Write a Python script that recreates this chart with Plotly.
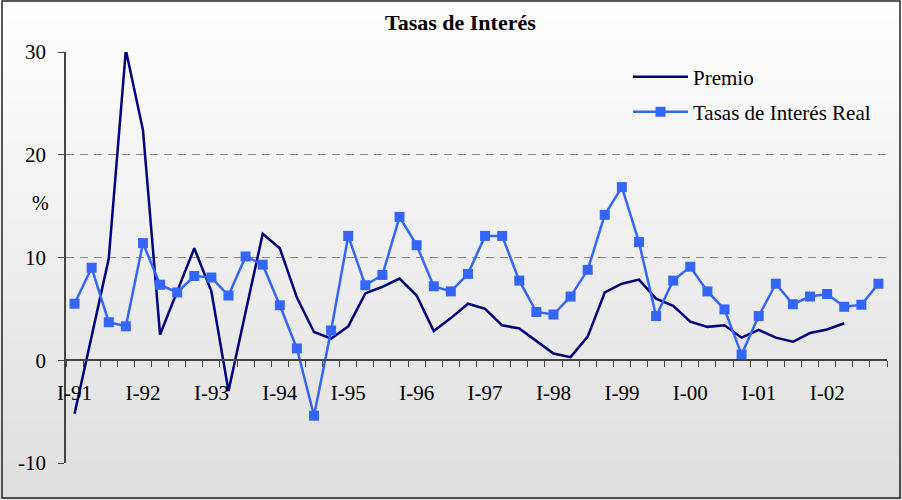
import plotly.graph_objects as go

# ---- data ----
years = ["91", "92", "93", "94", "95", "96", "97", "98", "99", "00", "01", "02"]
quarters = ["I", "II", "III", "IV"]
categories = [f"{q}-{y}" for y in years for q in quarters]

premio = [
    -5.2, 2.3, 9.9, 30.2,
    22.4, 2.5, 6.8, 10.9,
    6.7, -3.0, 4.7, 12.3,
    10.9, 6.1, 2.75, 2.1,
    3.3, 6.5, 7.15, 7.95,
    6.3, 2.85, 4.1, 5.5,
    5.0, 3.4, 3.1, 1.9,
    0.65, 0.3, 2.3, 6.6,
    7.45, 7.85, 6.0, 5.3,
    3.75, 3.25, 3.4, 2.2,
    2.95, 2.2, 1.8, 2.65,
    3.0, 3.6,
]
tasa_real = [
    5.5, 9.0, 3.7, 3.3,
    11.4, 7.35, 6.6, 8.2,
    8.05, 6.3, 10.1, 9.3,
    5.35, 1.15, -5.4, 2.9,
    12.1, 7.3, 8.3, 13.95,
    11.2, 7.2, 6.7, 8.4,
    12.1, 12.1, 7.75, 4.7,
    4.45, 6.2, 8.8, 14.15,
    16.85, 11.5, 4.3, 7.75,
    9.1, 6.7, 4.95, 0.55,
    4.3, 7.45, 5.45, 6.2,
    6.45, 5.2, 5.4, 7.45,
]
x_ticktext = [c if c.startswith("I-") else "" for c in categories]
y_tickvals = [-10, 0, 10, 20, 30]
y_ticktext = ["-10", "0", "10", "20", "30"]

FONT = "Liberation Serif"

fig = go.Figure()
fig.add_trace(go.Scatter(
    x=categories[:len(premio)], y=premio, name="Premio", mode="lines",
    line=dict(color="#000080", width=2.5), legend="legend",
))
fig.add_trace(go.Scatter(
    x=categories, y=tasa_real, name="Tasas de Interés Real", mode="lines+markers",
    line=dict(color="#3366FF", width=2.5),
    marker=dict(symbol="square", size=10, color="#3366FF"), legend="legend2",
))

# background gradient (white top -> light grey bottom), in pixel strips
W, H = 902, 500
L, R, T, B = 66, 15, 52, 37
pw, ph = W - L - R, H - T - B
shapes = []
n = 50
for i in range(n):
    y0px, y1px = H * i / n, H * (i + 1) / n
    t = (y0px + y1px) / 2 / H
    c = int(round(255 - 33 * t))
    shapes.append(dict(
        type="rect", xref="paper", yref="paper", layer="below",
        x0=(0 - L) / pw, x1=(W - L) / pw,
        y0=(H - B - y1px) / ph, y1=(H - B - y0px) / ph,
        fillcolor=f"rgb({c},{c},{c})", line=dict(width=0),
    ))
# outer frame
shapes.append(dict(
    type="rect", xref="paper", yref="paper", layer="above",
    x0=(2 - L) / pw, x1=(900 - L) / pw,
    y0=(H - B - 498) / ph, y1=(H - B - 1) / ph,
    line=dict(color="#222222", width=1.5), fillcolor="rgba(0,0,0,0)",
))

fig.update_layout(
    width=W, height=H,
    margin=dict(l=L, r=R, t=T, b=B, autoexpand=False),
    paper_bgcolor="white", plot_bgcolor="rgba(0,0,0,0)",
    font=dict(family=FONT, size=21, color="black"),
    shapes=shapes,
    showlegend=True,
    legend=dict(x=(628 - L) / pw, y=(H - B - 77) / ph, xanchor="left", yanchor="middle",
                bgcolor="rgba(0,0,0,0)", font=dict(size=21, family=FONT), itemwidth=55),
    legend2=dict(x=(628 - L) / pw, y=(H - B - 112) / ph, xanchor="left", yanchor="middle",
                 bgcolor="rgba(0,0,0,0)", font=dict(size=21, family=FONT), itemwidth=55),
    annotations=[
        dict(text="<b>Tasas de Interés</b>", xref="paper", yref="paper",
             x=(460 - L) / pw, y=(H - B - 22) / ph, showarrow=False,
             font=dict(size=22, family=FONT), xanchor="center", yanchor="middle"),
        dict(text="%", xref="paper", yref="paper",
             x=(40 - L) / pw, y=(H - B - 203) / ph, showarrow=False,
             font=dict(size=20, family=FONT), xanchor="center", yanchor="middle"),
    ],
)
fig.update_xaxes(
    type="category", categoryorder="array", categoryarray=categories,
    range=[-0.5, len(categories) - 0.5],
    tickmode="array", tickvals=categories, ticktext=x_ticktext,
    tickson="boundaries", ticks="outside", ticklen=6, tickcolor="#444444",
    showline=True, linecolor="#444444", linewidth=1.5,
    anchor="free", position=0.25, showgrid=False, zeroline=False,
    ticklabelstandoff=14, tickangle=0, automargin=False,
    tickfont=dict(size=21, family=FONT),
)
fig.update_yaxes(
    range=[-10, 30], tickmode="array", tickvals=y_tickvals, ticktext=y_ticktext,
    ticks="outside", ticklen=6, tickcolor="#444444",
    showline=True, linecolor="#444444", linewidth=1.5,
    showgrid=True, gridcolor="#888888", gridwidth=1, griddash="8px,6px",
    zeroline=False, ticklabelstandoff=8, automargin=False,
    tickfont=dict(size=21, family=FONT),
)

fig.write_html("out.html", config={"displayModeBar": False},
               post_script="document.body.style.margin='0';")
